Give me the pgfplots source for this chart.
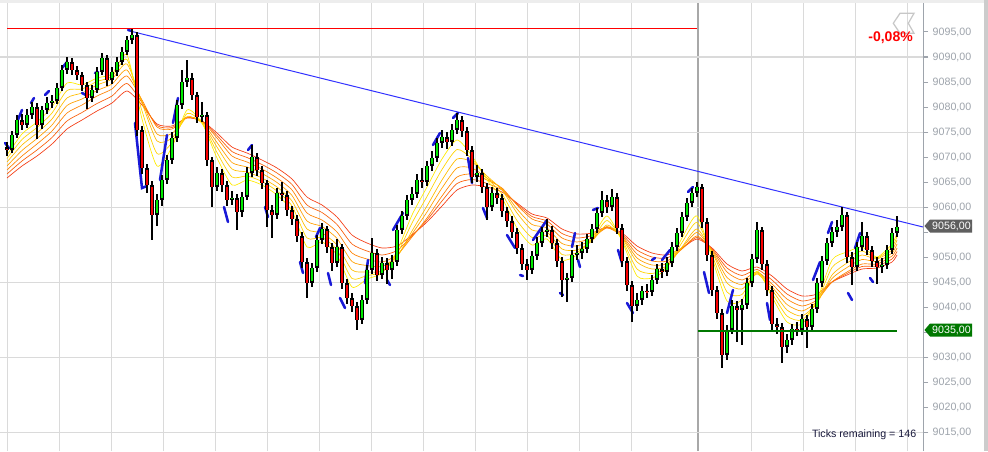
\documentclass[border=0pt]{standalone}
\usepackage{pgfplots}
\pgfplotsset{compat=1.18}
\usepackage{pgfplotstable}
\usepackage{fontspec}
\setmainfont{Liberation Sans}

\definecolor{gridc}{RGB}{218,218,218}
\definecolor{sessc}{RGB}{168,168,168}
\definecolor{tickc}{RGB}{158,164,172}
\definecolor{upc}{RGB}{0,235,0}
\definecolor{dnc}{RGB}{250,0,0}
\definecolor{segc}{RGB}{25,25,215}
\definecolor{trendc}{RGB}{50,50,255}
\definecolor{maA}{RGB}{255,235,0}
\definecolor{maAB}{RGB}{255,212,0}
\definecolor{maB}{RGB}{255,190,0}
\definecolor{maBC}{RGB}{255,160,0}
\definecolor{maC}{RGB}{255,130,0}
\definecolor{maCD}{RGB}{250,95,10}
\definecolor{maD}{RGB}{245,60,20}
\definecolor{lastc}{RGB}{95,95,95}
\definecolor{supc}{RGB}{0,120,0}
\definecolor{txtc}{RGB}{25,25,60}

\pgfplotstableread{
x o h l c
7 9072.0 9073.0 9070.2 9071.4
12 9071.4 9075.2 9070.8 9074.4
17 9074.4 9078.4 9073.8 9077.4
22 9077.4 9078.6 9075.4 9076.4
27 9076.4 9079.6 9075.8 9078.4
32 9078.4 9081.0 9077.6 9080.0
37 9080.0 9080.8 9073.6 9076.4
42 9076.4 9080.2 9075.6 9079.4
47 9079.4 9082.0 9078.6 9080.8
52 9080.8 9082.4 9079.8 9081.2
57 9081.2 9084.8 9080.6 9083.8
62 9083.8 9088.4 9083.2 9087.4
67 9087.4 9090.0 9086.6 9089.0
72 9089.0 9089.8 9086.4 9087.4
77 9087.4 9088.2 9085.4 9086.4
82 9086.4 9087.0 9083.2 9084.4
87 9084.4 9085.0 9079.6 9081.8
92 9081.8 9084.4 9081.0 9083.4
97 9083.4 9088.0 9082.8 9087.0
102 9087.0 9090.8 9086.4 9089.8
107 9089.8 9090.4 9084.2 9085.4
112 9085.4 9088.0 9084.6 9087.0
117 9087.0 9090.0 9086.2 9089.0
122 9089.0 9092.0 9088.4 9091.0
127 9091.0 9094.2 9090.4 9093.4
132 9093.4 9095.6 9092.6 9094.4
137 9094.4 9095.0 9074.2 9075.4
142 9075.4 9076.2 9066.6 9067.8
147 9067.8 9068.6 9062.8 9064.4
152 9064.4 9065.2 9053.4 9058.4
157 9058.4 9062.6 9056.2 9061.4
162 9061.4 9066.4 9060.2 9065.4
167 9065.4 9070.4 9064.6 9069.4
172 9069.4 9075.0 9068.6 9073.8
177 9073.8 9081.4 9073.0 9080.4
182 9080.4 9087.4 9079.6 9085.0
187 9085.0 9089.4 9084.0 9085.8
192 9085.8 9086.8 9081.4 9082.4
197 9082.4 9083.0 9076.8 9078.0
202 9078.0 9081.0 9077.0 9078.4
207 9078.4 9079.0 9068.2 9069.4
212 9069.4 9070.0 9060.0 9064.0
217 9064.0 9068.0 9063.2 9066.8
222 9066.8 9067.6 9063.0 9064.4
227 9064.4 9065.2 9060.2 9061.4
232 9061.4 9063.2 9060.4 9061.8
237 9061.8 9062.6 9055.4 9059.0
242 9059.0 9063.0 9058.0 9062.0
247 9062.0 9068.0 9061.4 9066.8
252 9066.8 9072.4 9066.0 9070.0
257 9070.0 9070.8 9066.2 9067.4
262 9067.4 9068.2 9063.6 9064.8
267 9064.8 9065.4 9056.0 9059.4
272 9059.4 9060.4 9053.8 9058.4
277 9058.4 9063.8 9057.6 9062.8
282 9062.8 9065.0 9061.2 9062.4
287 9062.4 9063.2 9058.2 9059.4
292 9059.4 9060.2 9056.4 9057.6
297 9057.6 9058.4 9053.0 9054.2
302 9054.2 9055.0 9047.8 9049.0
307 9049.0 9049.8 9041.8 9044.8
312 9044.8 9048.8 9044.0 9047.8
317 9047.8 9054.4 9047.0 9053.4
322 9053.4 9056.8 9052.6 9055.6
327 9055.6 9056.2 9050.8 9052.0
332 9052.0 9052.8 9047.2 9048.8
337 9048.8 9053.6 9048.0 9052.0
342 9052.0 9052.6 9043.6 9044.8
347 9044.8 9045.6 9040.6 9041.8
352 9041.8 9042.8 9039.0 9040.2
357 9040.2 9041.0 9035.4 9037.4
362 9037.4 9042.4 9036.6 9041.4
367 9041.4 9048.4 9040.6 9047.4
372 9047.4 9053.8 9046.6 9050.8
377 9050.8 9051.6 9045.2 9046.4
382 9046.4 9050.0 9045.6 9048.8
387 9048.8 9049.8 9044.6 9047.4
392 9047.4 9050.4 9045.6 9049.0
397 9049.0 9056.4 9048.2 9055.4
402 9055.4 9059.2 9054.6 9058.2
407 9058.2 9062.4 9057.4 9061.4
412 9061.4 9064.0 9060.4 9062.6
417 9062.6 9066.6 9061.8 9065.4
422 9065.4 9067.8 9063.8 9065.0
427 9065.0 9069.2 9064.2 9068.2
432 9068.2 9071.2 9067.2 9069.8
437 9069.8 9073.8 9069.0 9072.8
442 9072.8 9075.4 9071.8 9074.0
447 9074.0 9075.0 9071.6 9073.0
452 9073.0 9076.6 9072.2 9075.4
457 9075.4 9078.8 9074.6 9077.4
462 9077.4 9078.2 9074.0 9075.2
467 9075.2 9076.0 9070.2 9071.4
472 9071.4 9072.2 9064.8 9066.0
477 9066.0 9068.4 9065.0 9066.8
482 9066.8 9067.6 9062.8 9064.0
487 9064.0 9064.8 9057.4 9060.0
492 9060.0 9064.0 9059.2 9062.8
497 9062.8 9063.8 9060.6 9061.8
502 9061.8 9062.6 9058.0 9059.2
507 9059.2 9060.0 9056.0 9057.2
512 9057.2 9058.2 9053.8 9055.0
517 9055.0 9055.8 9050.6 9051.8
522 9051.8 9052.6 9047.4 9048.6
527 9048.6 9049.6 9045.4 9047.4
532 9047.4 9051.2 9046.6 9050.2
537 9050.2 9054.0 9049.4 9052.8
542 9052.8 9056.0 9052.0 9055.0
547 9055.0 9057.6 9054.0 9055.4
552 9055.4 9056.2 9051.6 9052.8
557 9052.8 9053.6 9048.0 9049.2
562 9049.2 9050.0 9042.0 9045.4
567 9045.4 9046.8 9041.0 9045.8
572 9045.8 9051.4 9045.0 9050.4
577 9050.4 9052.4 9049.4 9050.8
582 9050.8 9053.0 9049.6 9051.6
587 9051.6 9054.6 9050.8 9053.6
592 9053.6 9056.6 9052.8 9055.6
597 9055.6 9059.8 9054.8 9058.8
602 9058.8 9063.2 9058.0 9061.4
607 9061.4 9062.4 9058.8 9060.0
612 9060.0 9063.6 9059.2 9062.0
617 9062.0 9062.8 9054.6 9055.8
622 9055.8 9056.6 9048.0 9049.2
627 9049.2 9050.0 9043.2 9044.4
632 9044.4 9045.2 9037.0 9040.2
637 9040.2 9042.8 9039.2 9041.4
642 9041.4 9044.2 9040.4 9043.2
647 9043.2 9044.6 9041.8 9043.0
652 9043.0 9046.4 9042.2 9045.4
657 9045.4 9048.6 9044.6 9047.6
662 9047.6 9048.8 9045.8 9047.0
667 9047.0 9050.0 9046.2 9048.8
672 9048.8 9053.0 9048.0 9052.0
677 9052.0 9055.8 9051.2 9054.8
682 9054.8 9059.0 9054.0 9058.0
687 9058.0 9061.8 9057.2 9060.8
692 9060.8 9063.8 9060.0 9062.8
697 9062.8 9065.0 9062.0 9064.0
702 9064.0 9064.6 9055.8 9057.0
707 9057.0 9057.8 9049.2 9050.4
712 9050.4 9051.2 9042.2 9043.4
717 9043.4 9044.2 9037.6 9038.8
722 9038.8 9039.6 9027.8 9030.4
727 9030.4 9036.4 9029.4 9035.4
732 9035.4 9041.4 9034.6 9040.2
737 9040.2 9041.2 9033.0 9039.4
742 9039.4 9041.6 9032.4 9040.4
747 9040.4 9045.8 9039.6 9044.8
752 9044.8 9050.6 9044.0 9049.6
757 9049.6 9057.0 9048.8 9055.4
762 9055.4 9056.0 9047.4 9048.6
767 9048.6 9049.4 9042.2 9043.4
772 9043.4 9044.2 9035.4 9036.6
777 9036.6 9037.8 9034.6 9036.0
782 9036.0 9036.8 9028.8 9032.0
787 9032.0 9034.6 9030.8 9033.4
792 9033.4 9036.6 9032.4 9035.6
797 9035.6 9037.0 9034.2 9035.4
802 9035.4 9038.6 9034.4 9037.6
807 9037.6 9038.4 9031.8 9036.0
812 9036.0 9040.6 9035.2 9039.6
817 9039.6 9045.8 9038.8 9044.8
822 9044.8 9050.2 9044.0 9049.2
827 9049.2 9053.8 9048.4 9052.8
832 9052.8 9056.0 9052.0 9055.0
837 9055.0 9057.4 9054.0 9056.0
842 9056.0 9060.0 9055.2 9058.4
847 9058.4 9059.0 9048.8 9050.0
852 9050.0 9051.0 9044.4 9048.0
857 9048.0 9053.0 9047.2 9052.0
862 9052.0 9057.0 9051.2 9054.2
867 9054.2 9055.0 9050.4 9051.4
872 9051.4 9052.2 9048.0 9049.2
877 9049.2 9050.0 9044.6 9048.0
882 9048.0 9049.8 9046.8 9048.4
887 9048.4 9052.4 9047.6 9051.4
892 9051.4 9055.8 9050.6 9054.8
897 9054.8 9058.2 9054.0 9056.0
}\candles

\pgfplotstableread{
x a ab b bc c cd d
7 9070.4 9069.7 9069.0 9068.2 9067.4 9066.6 9065.8
22 9074.6 9073.5 9072.4 9071.3 9070.2 9069.2 9068.2
37 9077.0 9075.9 9074.8 9073.7 9072.6 9071.4 9070.2
52 9080.0 9078.8 9077.6 9076.4 9075.2 9073.9 9072.6
67 9084.8 9083.3 9081.8 9080.3 9078.8 9077.2 9075.6
82 9084.4 9083.6 9082.8 9081.6 9080.4 9078.9 9077.4
97 9085.8 9085.1 9084.4 9083.3 9082.2 9080.7 9079.2
112 9086.6 9086.1 9085.6 9084.6 9083.6 9082.2 9080.8
127 9090.4 9089.5 9088.6 9087.4 9086.2 9084.7 9083.2
142 9077.6 9079.2 9080.8 9081.1 9081.4 9080.9 9080.4
157 9068.2 9070.7 9073.2 9074.6 9076.0 9076.3 9076.6
172 9072.0 9072.9 9073.8 9074.7 9075.6 9075.9 9076.2
187 9079.4 9078.7 9078.0 9078.0 9078.0 9077.9 9077.8
202 9076.8 9076.8 9076.8 9077.0 9077.2 9077.2 9077.2
217 9069.8 9070.9 9072.0 9072.9 9073.8 9074.3 9074.8
232 9064.4 9066.0 9067.6 9068.9 9070.2 9071.1 9072.0
247 9065.4 9066.2 9067.0 9068.0 9069.0 9069.9 9070.8
262 9064.4 9065.1 9065.8 9066.7 9067.6 9068.5 9069.4
277 9062.4 9063.2 9064.0 9064.9 9065.8 9066.8 9067.8
292 9059.2 9060.2 9061.2 9062.3 9063.4 9064.5 9065.6
307 9052.0 9053.8 9055.6 9057.2 9058.8 9060.4 9062.0
322 9053.0 9053.9 9054.8 9056.1 9057.4 9058.9 9060.4
337 9050.4 9051.4 9052.4 9053.7 9055.0 9056.5 9058.0
352 9044.0 9045.7 9047.4 9049.1 9050.8 9052.6 9054.4
367 9045.6 9046.3 9047.0 9048.3 9049.6 9051.2 9052.8
382 9046.8 9047.0 9047.2 9048.1 9049.0 9050.4 9051.8
397 9051.2 9050.6 9050.0 9050.2 9050.4 9051.3 9052.2
412 9058.4 9056.8 9055.2 9054.6 9054.0 9054.2 9054.4
427 9064.0 9062.1 9060.2 9059.0 9057.8 9057.4 9057.0
442 9069.6 9067.5 9065.4 9063.8 9062.2 9061.2 9060.2
457 9073.4 9071.5 9069.6 9067.8 9066.0 9064.7 9063.4
472 9070.2 9069.6 9069.0 9067.8 9066.6 9065.5 9064.4
487 9065.4 9065.8 9066.2 9065.8 9065.4 9064.7 9064.0
502 9061.8 9062.6 9063.4 9063.6 9063.8 9063.4 9063.0
517 9055.8 9057.3 9058.8 9059.6 9060.4 9060.6 9060.8
532 9052.4 9053.9 9055.4 9056.5 9057.6 9058.1 9058.6
547 9053.6 9054.3 9055.0 9055.8 9056.6 9057.2 9057.8
562 9049.4 9050.5 9051.6 9052.7 9053.8 9054.7 9055.6
577 9050.4 9050.9 9051.4 9052.2 9053.0 9053.8 9054.6
592 9053.8 9053.5 9053.2 9053.5 9053.8 9054.3 9054.8
607 9058.2 9057.3 9056.4 9056.1 9055.8 9055.9 9056.0
622 9053.2 9053.5 9053.8 9054.0 9054.2 9054.5 9054.8
637 9046.2 9047.6 9049.0 9049.8 9050.6 9051.4 9052.2
652 9045.8 9046.7 9047.6 9048.4 9049.2 9050.0 9050.8
667 9047.8 9048.0 9048.2 9048.7 9049.2 9049.8 9050.4
682 9053.8 9052.9 9052.0 9051.8 9051.6 9051.7 9051.8
697 9058.2 9056.9 9055.6 9054.9 9054.2 9053.9 9053.6
712 9049.8 9050.4 9051.0 9051.2 9051.4 9051.6 9051.8
727 9041.2 9043.0 9044.8 9045.9 9047.0 9047.8 9048.6
742 9041.4 9042.5 9043.6 9044.5 9045.4 9046.3 9047.2
757 9047.2 9046.9 9046.6 9046.8 9047.0 9047.5 9048.0
772 9042.0 9042.7 9043.4 9044.0 9044.6 9045.4 9046.2
787 9037.0 9038.2 9039.4 9040.5 9041.6 9042.6 9043.6
802 9036.6 9037.4 9038.2 9039.2 9040.2 9041.2 9042.2
817 9041.4 9041.1 9040.8 9041.1 9041.4 9042.0 9042.6
832 9049.4 9047.9 9046.4 9045.7 9045.0 9045.0 9045.0
847 9051.0 9049.9 9048.8 9047.9 9047.0 9046.7 9046.4
862 9052.0 9051.2 9050.4 9049.5 9048.6 9048.1 9047.6
877 9050.0 9049.8 9049.6 9049.1 9048.6 9048.2 9047.8
892 9052.6 9052.0 9051.4 9050.8 9050.2 9049.6 9049.0
897 9054.8 9054.1 9053.4 9052.6 9051.8 9051.1 9050.4
}\ribbon

\begin{document}
\begin{tikzpicture}
\useasboundingbox (0pt,0pt) rectangle (741pt,338.25pt);
\fill[white] (0pt,0pt) rectangle (741pt,338.25pt);
\begin{axis}[
  at={(0pt,0pt)}, anchor=south west,
  scale only axis, width=692.25pt, height=338.25pt,
  xmin=0, xmax=923, ymin=9011.2, ymax=9101.4,
  axis x line*=bottom, axis y line*=right,
  x axis line style={draw=none},
  y axis line style={draw=tickc, line width=0.75pt},
  xtick={7,59,111,163,215,267,319,371,423,475,527,579,631,751,803,855,907},
  xticklabels={}, xmajorgrids, xtick style={draw=none},
  extra x ticks={698}, extra x tick labels={},
  extra x tick style={grid=major, major grid style={draw=sessc, line width=1.3pt}, tick style={draw=none}},
  major grid style={draw=gridc, line width=0.75pt},
  ytick={9015,9020,9025,9030,9035,9040,9045,9050,9055,9060,9065,9070,9075,9080,9085,9090,9095},
  yticklabels={{9015,00},{9020,00},{9025,00},{9030,00},{},{9040,00},{9045,00},{9050,00},{},{9060,00},{9065,00},{9070,00},{9075,00},{9080,00},{9085,00},{9090,00},{9095,00}},
  extra y ticks={9015,9030,9045,9060,9075,9090}, extra y tick labels={},
  extra y tick style={grid=major, tick style={draw=none}},
  tick align=outside, major tick length=3.75pt,
  ytick style={draw=tickc, line width=0.75pt},
  yticklabel style={font=\fontsize{8}{9.6}\selectfont, text=tickc},
]
% resistance line
\addplot[color=red, line width=0.8pt, forget plot] coordinates {(7,9095.7) (697,9095.7)};
% moving-average ribbon (slow to fast)
\addplot[color=maD, line width=0.5pt, smooth, tension=0.4, forget plot] table[x=x,y=d] {\ribbon};
\addplot[color=maCD, line width=0.5pt, smooth, tension=0.4, forget plot] table[x=x,y=cd] {\ribbon};
\addplot[color=maC, line width=0.5pt, smooth, tension=0.4, forget plot] table[x=x,y=c] {\ribbon};
\addplot[color=maBC, line width=0.5pt, smooth, tension=0.4, forget plot] table[x=x,y=bc] {\ribbon};
\addplot[color=maB, line width=0.5pt, smooth, tension=0.4, forget plot] table[x=x,y=b] {\ribbon};
\addplot[color=maAB, line width=0.5pt, smooth, tension=0.4, forget plot] table[x=x,y=ab] {\ribbon};
\addplot[color=maA, line width=0.5pt, smooth, tension=0.4, forget plot] table[x=x,y=a] {\ribbon};
% trend line
\addplot[color=trendc, line width=0.75pt, forget plot] coordinates {(130,9095.2) (923,9056.0)};
% blue swing segments
\addplot[color=segc, line width=1.9pt, line cap=round, unbounded coords=jump, forget plot] coordinates {
(5,9072.8) (9,9071.8) (9,nan)
(17,9077.0) (22,9079.4) (22,nan)
(31,9080.8) (34,9081.8) (34,nan)
(45,9082.4) (49,9083.2) (49,nan)
(62,9087.8) (67,9089.0) (67,nan)
(82,9082.8) (86,9082.4) (86,nan)
(95,9086.8) (98,9087.0) (98,nan)
(128,9095.4) (132,9095.2) (132,nan)
(135,9076.8) (142,9063.8) (147,9064.2) (147,nan)
(160,9065.4) (167,9074.4) (167,nan)
(173,9076.8) (178,9081.8) (178,nan)
(224,9060.0) (228,9057.0) (228,nan)
(248,9071.4) (252,9072.4) (252,nan)
(265,9060.0) (268,9058.0) (268,nan)
(300,9049.0) (303,9046.8) (303,nan)
(316,9054.0) (320,9055.8) (320,nan)
(328,9046.8) (331,9044.4) (331,nan)
(340,9041.8) (345,9039.8) (345,nan)
(365,9044.8) (368,9049.4) (368,nan)
(387,9045.4) (390,9044.4) (390,nan)
(393,9055.4) (403,9058.8) (403,nan)
(433,9072.4) (440,9074.8) (440,nan)
(453,9077.8) (458,9078.8) (458,nan)
(468,9069.8) (472,9064.8) (472,nan)
(483,9059.8) (487,9057.8) (487,nan)
(507,9054.4) (515,9051.8) (515,nan)
(520,9046.4) (523,9046.2) (523,nan)
(533,9053.4) (547,9057.4) (547,nan)
(560,9042.8) (563,9042.4) (563,nan)
(572,9052.0) (575,9054.8) (575,nan)
(578,9049.4) (580,9048.0) (580,nan)
(593,9059.4) (598,9059.8) (598,nan)
(618,9051.4) (622,9048.8) (622,nan)
(627,9040.8) (633,9038.8) (633,nan)
(652,9049.4) (655,9049.8) (655,nan)
(662,9049.4) (670,9051.4) (670,nan)
(688,9063.0) (693,9064.0) (693,nan)
(704,9047.0) (709,9042.8) (709,nan)
(727,9038.8) (733,9043.4) (733,nan)
(767,9040.8) (770,9037.4) (770,nan)
(813,9045.4) (820,9049.0) (820,nan)
(828,9054.8) (832,9057.0) (832,nan)
(848,9042.8) (852,9041.4) (852,nan)
(855,9051.8) (860,9054.8) (860,nan)
(870,9045.8) (873,9045.0)
};
% candlestick wicks
\addplot[only marks, mark=none, mark size=0pt, forget plot,
  error bars/.cd, y dir=both, y explicit, error mark=none,
  error bar style={draw=black, line width=1.0pt}]
  table[x=x, y=c, y error plus expr=\thisrow{h}-\thisrow{c}, y error minus expr=\thisrow{c}-\thisrow{l}] {\candles};
% candlestick bodies (black frame)
\addplot[only marks, mark=none, mark size=0pt, forget plot,
  error bars/.cd, y dir=both, y explicit, error mark=none,
  error bar style={draw=black, line width=3.4pt}]
  table[x=x, y=c, y error plus expr={max(\thisrow{o}-\thisrow{c},0)}, y error minus expr={max(\thisrow{c}-\thisrow{o},0)}] {\candles};
% up bodies
\addplot[only marks, mark=none, mark size=0pt, forget plot,
  restrict expr to domain={\thisrow{c}-\thisrow{o}}{0.01:1000},
  error bars/.cd, y dir=both, y explicit, error mark=none,
  error bar style={draw=upc, line width=0.85pt}]
  table[x=x, y=c, y error plus expr={-0.2}, y error minus expr={\thisrow{c}-\thisrow{o}-0.4}] {\candles};
% down bodies
\addplot[only marks, mark=none, mark size=0pt, forget plot,
  restrict expr to domain={\thisrow{o}-\thisrow{c}}{0.01:1000},
  error bars/.cd, y dir=both, y explicit, error mark=none,
  error bar style={draw=dnc, line width=0.85pt}]
  table[x=x, y=c, y error minus expr={-0.2}, y error plus expr={\thisrow{o}-\thisrow{c}-0.4}] {\candles};
% support line
\addplot[color=supc, line width=0.8pt, forget plot] coordinates {(698,9035.2) (897,9035.2)};
\end{axis}
\begin{scope}[shift={(0pt,338.25pt)}, x=0.75pt, y=-0.75pt]
  \fill[black!7] (0,0) rectangle (988,3);
  \fill[black!20] (984,0) rectangle (988,451);
  \draw[black!22, line width=0.9pt, line join=miter] (900,13.3) -- (914,13.3) -- (908.3,23.3) -- (914,33.3) -- (900,33.3) -- (893.3,23.3) -- cycle;
  \node[anchor=east, text=red, font=\bfseries\fontsize{10.5}{12}\selectfont, inner sep=0pt] at (913,37.5) {-0,08\%};
  \fill[lastc] (924.5,226) -- (930,219.5) -- (972,219.5) -- (972,232.5) -- (930,232.5) -- cycle;
  \node[text=white, font=\fontsize{8}{9.6}\selectfont, inner sep=0pt] at (951.5,226) {9056,00};
  \fill[supc] (924.5,330) -- (930,323.5) -- (972,323.5) -- (972,336.5) -- (930,336.5) -- cycle;
  \node[text=white, font=\fontsize{8}{9.6}\selectfont, inner sep=0pt] at (951.5,330) {9035,00};
  \node[anchor=east, text=txtc, font=\fontsize{8}{9.6}\selectfont, inner sep=0pt] at (916.5,434.5) {Ticks remaining = 146};
\end{scope}
\end{tikzpicture}
\end{document}
